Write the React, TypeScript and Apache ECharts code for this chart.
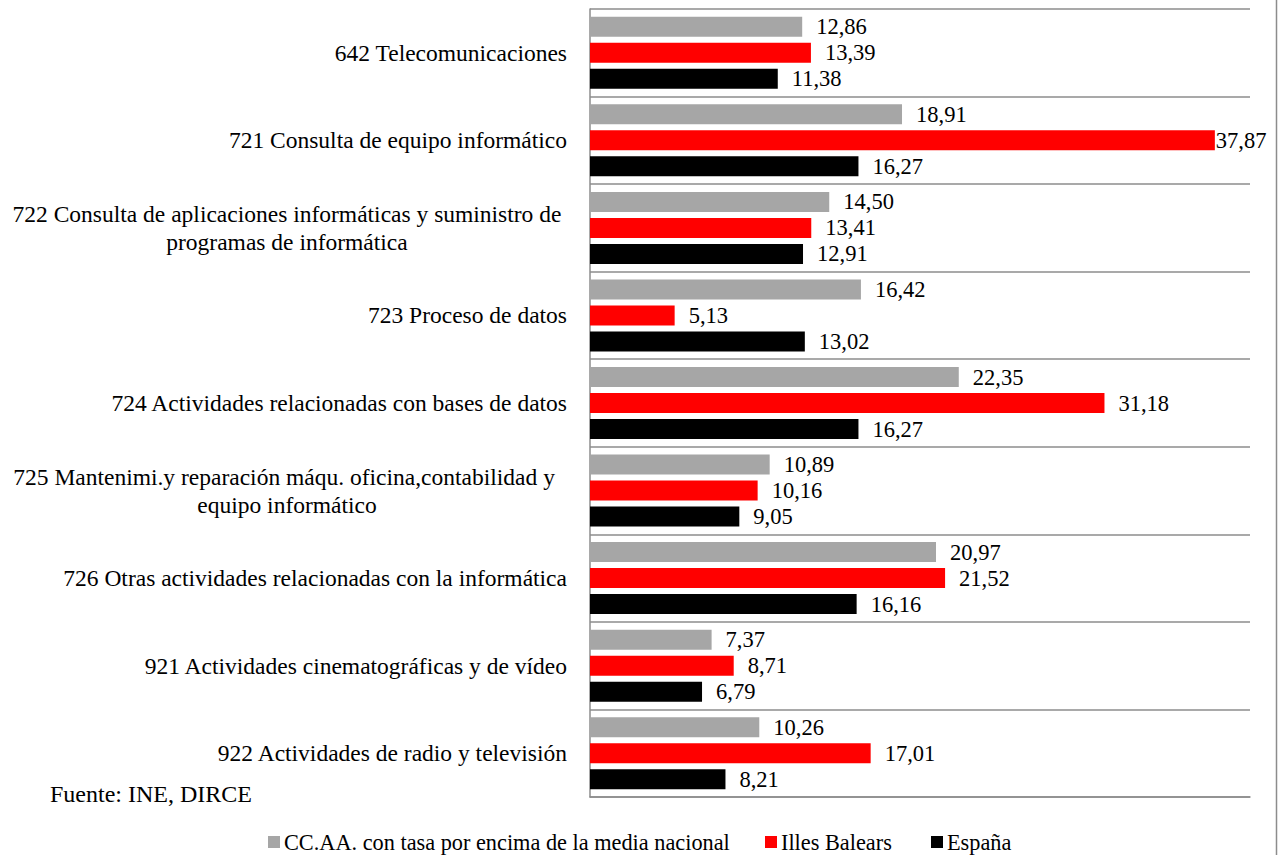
import React, { useEffect, useRef } from "react";
import * as echarts from "echarts";

const categories: string[] = [
  "642 Telecomunicaciones",
  "721 Consulta de equipo informático",
  "722 Consulta de aplicaciones informáticas y suministro de\nprogramas de informática",
  "723 Proceso de datos",
  "724 Actividades relacionadas con bases de datos",
  "725 Mantenimi.y reparación máqu. oficina,contabilidad y \nequipo informático",
  "726 Otras actividades relacionadas con la informática",
  "921 Actividades cinematográficas y de vídeo",
  "922 Actividades de radio y televisión",
];

const ccaa: number[] = [12.86, 18.91, 14.5, 16.42, 22.35, 10.89, 20.97, 7.37, 10.26];
const baleares: number[] = [13.39, 37.87, 13.41, 5.13, 31.18, 10.16, 21.52, 8.71, 17.01];
const espana: number[] = [11.38, 16.27, 12.91, 13.02, 16.27, 9.05, 16.16, 6.79, 8.21];

const seriesNames: string[] = [
  "CC.AA. con tasa por encima de la media nacional",
  "Illes Balears",
  "España",
];
const colors: string[] = ["#a6a6a6", "#ff0000", "#000000"];
const source = "Fuente: INE, DIRCE";

const FONT = "'Liberation Serif', 'Times New Roman', serif";

export default function App() {
  const ref = useRef<HTMLDivElement>(null);
  useEffect(() => {
    if (!ref.current) return;
    const chart = echarts.init(ref.current, undefined, { renderer: "svg" });
    const fmt = (p: any) => Number(p.value).toFixed(2).replace(".", ",");
    const mk = (name: string, data: number[], color: string) => ({
      name,
      type: "bar",
      data: data.map((v) => (v > 35 ? { value: v, label: { distance: 1 } } : v)),
      barWidth: 20,
      barGap: "30%",
      itemStyle: { color },
      label: {
        show: true,
        position: "right",
        distance: 14,
        formatter: fmt,
        fontFamily: FONT,
        fontSize: 22.5,
        color: "#000",
      },
    });
    const legendPos = [268, 765, 931];
    chart.setOption({
      animation: false,
      textStyle: { fontFamily: FONT },
      grid: { left: 590, right: 29, top: 9, bottom: 58, containLabel: false },
      legend: seriesNames.map((n, i) => ({
        data: [n],
        left: legendPos[i],
        top: 831,
        padding: 0,
        itemWidth: 12,
        itemHeight: 12,
        icon: "rect",
        textStyle: { fontFamily: FONT, fontSize: 22.3, color: "#000", padding: [0, 0, 0, -1] },
        selectedMode: false,
      })),
      xAxis: {
        type: "value",
        min: 0,
        max: 40,
        axisLabel: { show: false },
        axisTick: { show: false },
        splitLine: { show: false },
        axisLine: { show: true, lineStyle: { color: "#8c8c8c", width: 1.5 } },
      },
      yAxis: {
        type: "category",
        inverse: true,
        data: categories,
        axisTick: { show: false },
        axisLine: { show: true, lineStyle: { color: "#8c8c8c", width: 1.5 } },
        splitLine: { show: true, lineStyle: { color: "#8c8c8c", width: 1.5 } },
        axisLabel: {
          margin: 23,
          fontFamily: FONT,
          fontSize: 23.5,
          color: "#000",
          lineHeight: 28,
          formatter: (v: string) => {
            if (v.indexOf("\n") >= 0) {
              return v
                .split("\n")
                .map((l) => "{c|" + l + "}")
                .join("\n");
            }
            return v;
          },
          rich: {
            c: {
              width: 560,
              align: "center",
              fontFamily: FONT,
              fontSize: 23.5,
              color: "#000",
              lineHeight: 28,
            },
          },
        },
      },
      graphic: [
        {
          type: "text",
          left: 50,
          top: 782,
          style: { text: source, fontFamily: FONT, fontSize: 24, fill: "#000" },
        },
        {
          type: "line",
          shape: { x1: 1276.5, y1: 0, x2: 1276.5, y2: 855 },
          style: { stroke: "#8c8c8c", lineWidth: 1.5 },
        },
      ],
      series: [
        mk(seriesNames[0], ccaa, colors[0]),
        mk(seriesNames[1], baleares, colors[1]),
        mk(seriesNames[2], espana, colors[2]),
      ],
    });
    return () => chart.dispose();
  }, []);
  return <div ref={ref} style={{ width: 1279, height: 855, position: "absolute", left: 0, top: 0 }} />;
}
